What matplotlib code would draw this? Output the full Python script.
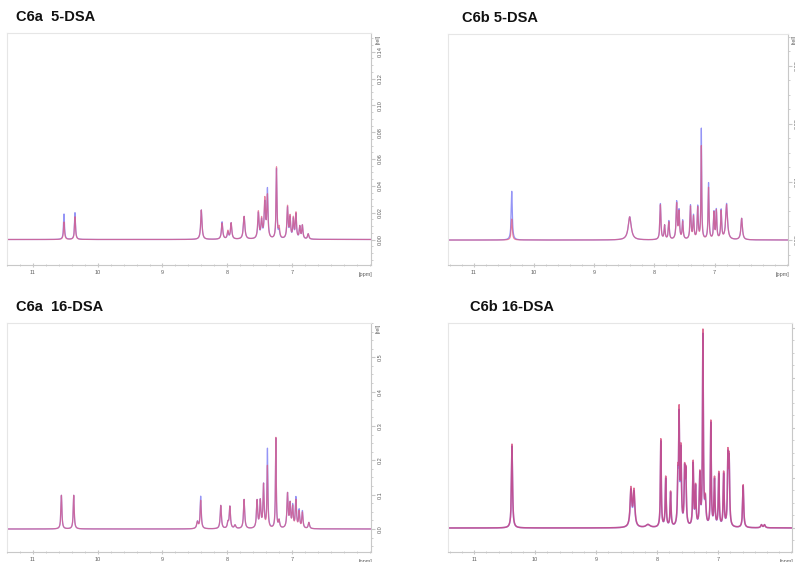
import numpy as np
import matplotlib
matplotlib.use("Agg")
import matplotlib.pyplot as plt
from matplotlib.ticker import MultipleLocator

plt.rcParams["font.family"] = ["Liberation Sans", "DejaVu Sans"]

# peak lists: position [ppm], height [rel] (blue / red trace), half width [ppm]
c6a_5_ppm = [10.52, 10.35, 8.40, 8.08, 7.99, 7.94, 7.74, 7.52, 7.47, 7.42, 7.38, 7.24, 7.20,
             7.07, 7.03, 6.98, 6.94, 6.88, 6.84, 6.75]
c6a_5_blue = [0.019, 0.020, 0.022, 0.013, 0.005, 0.012, 0.017, 0.019, 0.013, 0.026, 0.036, 0.052, 0.006,
              0.023, 0.015, 0.014, 0.018, 0.009, 0.010, 0.004]
c6a_5_red = [0.013, 0.017, 0.022, 0.012, 0.006, 0.012, 0.017, 0.020, 0.014, 0.029, 0.031, 0.053, 0.008,
             0.024, 0.016, 0.015, 0.019, 0.009, 0.010, 0.004]
c6a_5_width = [0.009, 0.009, 0.012, 0.012, 0.012, 0.012, 0.014, 0.012, 0.012, 0.012, 0.010, 0.008, 0.012,
               0.011, 0.010, 0.010, 0.010, 0.010, 0.010, 0.012]

c6b_5_ppm = [10.37, 8.41, 7.90, 7.83, 7.76, 7.63, 7.59, 7.53, 7.40, 7.35, 7.28, 7.22, 7.10,
             7.01, 6.97, 6.89, 6.80, 6.55]
c6b_5_blue = [0.0084, 0.0040, 0.0062, 0.0024, 0.0032, 0.0064, 0.0048, 0.0032, 0.0058, 0.0040, 0.0056, 0.0190, 0.0097,
              0.0046, 0.0050, 0.0050, 0.0062, 0.0037]
c6b_5_red = [0.0036, 0.0040, 0.0060, 0.0024, 0.0030, 0.0061, 0.0046, 0.0030, 0.0056, 0.0038, 0.0054, 0.0160, 0.0089,
             0.0045, 0.0048, 0.0048, 0.0060, 0.0037]
c6b_5_width = [0.011, 0.030, 0.010, 0.010, 0.010, 0.011, 0.010, 0.010, 0.010, 0.010, 0.010, 0.007, 0.009,
               0.009, 0.009, 0.010, 0.018, 0.015]

c6a_16_ppm = [10.56, 10.37, 8.46, 8.41, 8.10, 7.99, 7.96, 7.88, 7.74, 7.54, 7.49, 7.44, 7.38, 7.25, 7.20,
              7.07, 7.03, 6.99, 6.94, 6.89, 6.84, 6.74]
c6a_16_blue = [0.098, 0.098, 0.020, 0.094, 0.068, 0.016, 0.064, 0.010, 0.085, 0.080, 0.078, 0.125, 0.230, 0.262, 0.022,
               0.100, 0.068, 0.064, 0.088, 0.052, 0.050, 0.018]
c6a_16_red = [0.098, 0.098, 0.020, 0.082, 0.068, 0.016, 0.064, 0.010, 0.085, 0.080, 0.078, 0.125, 0.180, 0.264, 0.022,
              0.100, 0.068, 0.060, 0.080, 0.048, 0.046, 0.018]
c6a_16_width = [0.009, 0.009, 0.014, 0.010, 0.011, 0.011, 0.011, 0.014, 0.011, 0.011, 0.011, 0.010, 0.008, 0.007, 0.011,
                0.011, 0.010, 0.010, 0.010, 0.010, 0.010, 0.012]

c6b_16_ppm = [10.38, 8.43, 8.38, 8.15, 7.94, 7.86, 7.78, 7.66, 7.64, 7.61, 7.55, 7.53, 7.41, 7.37, 7.30,
              7.25, 7.21, 7.12, 7.06, 6.99, 6.91, 6.84, 6.82, 6.59, 6.29, 6.24]
c6b_16_blue = [0.82, 0.36, 0.34, 0.03, 0.86, 0.48, 0.34, 0.44, 1.04, 0.72, 0.52, 0.50, 0.62, 0.38, 0.50,
               1.90, 0.24, 1.03, 0.46, 0.52, 0.52, 0.66, 0.62, 0.42, 0.03, 0.03]
c6b_16_red = [0.84, 0.38, 0.36, 0.03, 0.88, 0.50, 0.35, 0.46, 1.08, 0.74, 0.53, 0.51, 0.64, 0.39, 0.51,
              1.94, 0.25, 1.05, 0.48, 0.54, 0.54, 0.68, 0.64, 0.43, 0.03, 0.03]
c6b_16_width = [0.010, 0.016, 0.016, 0.04, 0.008, 0.009, 0.009, 0.009, 0.008, 0.009, 0.009, 0.009, 0.009, 0.009, 0.009,
                0.008, 0.012, 0.008, 0.009, 0.009, 0.009, 0.009, 0.009, 0.010, 0.014, 0.014]

panels = [
    dict(title="C6a  5-DSA", ppm=c6a_5_ppm, blue=c6a_5_blue, red=c6a_5_red, width=c6a_5_width,
         rect=[0.0088, 0.5285, 0.458, 0.4128], xlim=(11.40, 5.78), ylim=(-0.019, 0.154),
         yticks=[0.00, 0.02, 0.04, 0.06, 0.08, 0.10, 0.12, 0.14], yfmt="{:.2f}", yminor=0.005, rel=0.149,
         lw=0.9, red_col="#e0557c", tx=0.025, ypad=2),
    dict(title="C6b 5-DSA", ppm=c6b_5_ppm, blue=c6b_5_blue, red=c6b_5_red, width=c6b_5_width,
         rect=[0.5635, 0.5285, 0.4277, 0.411], xlim=(11.43, 5.78), ylim=(-0.0043, 0.0355),
         yticks=[0.00, 0.01, 0.02, 0.03], yfmt="{:.2f}", yminor=0.0025, rel=0.0345,
         lw=0.9, red_col="#e0557c", tx=0.04, ypad=2),
    dict(title="C6a  16-DSA", ppm=c6a_16_ppm, blue=c6a_16_blue, red=c6a_16_red, width=c6a_16_width,
         rect=[0.0088, 0.0178, 0.458, 0.4075], xlim=(11.40, 5.78), ylim=(-0.067, 0.60),
         yticks=[0.0, 0.1, 0.2, 0.3, 0.4, 0.5], yfmt="{:.1f}", yminor=0.025, rel=0.583,
         lw=0.9, red_col="#e0557c", tx=0.025, ypad=2),
    dict(title="C6b 16-DSA", ppm=c6b_16_ppm, blue=c6b_16_blue, red=c6b_16_red, width=c6b_16_width,
         rect=[0.5635, 0.0178, 0.4327, 0.4075], xlim=(11.43, 5.79), ylim=(-0.24, 2.05),
         yticks=[0.0, 0.5, 1.0, 1.5, 2.0], yfmt="{:.1f}", yminor=0.125, rel=None,
         lw=1.1, red_col="#d2356a", tx=0.064, ypad=10),
]

grid = np.linspace(5.7, 11.5, 6000)


def spectrum(ppm, height, width):
    y = np.zeros_like(grid)
    for p, h, w in zip(ppm, height, width):
        y += h * w**2 / ((grid - p) ** 2 + w**2)
    return y


fig = plt.figure(figsize=(7.95, 5.62), dpi=100)
spine_col = "#c8c8c8"
tick_col = "#606060"

for p in panels:
    ax = fig.add_axes(p["rect"])
    ax.plot(grid, spectrum(p["ppm"], p["blue"], p["width"]), color="#8a8af5", lw=p["lw"], alpha=0.9)
    ax.plot(grid, spectrum(p["ppm"], p["red"], p["width"]), color=p["red_col"], lw=p["lw"], alpha=0.7)
    ax.set_xlim(*p["xlim"])
    ax.set_ylim(*p["ylim"])

    for s in ax.spines.values():
        s.set_color(spine_col)
        s.set_linewidth(0.8)
    ax.spines["left"].set_color("#e6e6e6")
    ax.spines["top"].set_color("#e6e6e6")

    ax.set_xticks([11, 10, 9, 8, 7])
    ax.set_xticklabels(["11", "10", "9", "8", "7"])
    ax.xaxis.set_minor_locator(MultipleLocator(0.2))
    ax.tick_params(axis="x", which="both", direction="inout", colors=spine_col, labelcolor=tick_col,
                   labelsize=4, pad=2)
    ax.tick_params(axis="x", which="major", length=3)
    ax.tick_params(axis="x", which="minor", length=2)

    ax.yaxis.tick_right()
    ax.set_yticks(p["yticks"])
    ax.set_yticklabels([p["yfmt"].format(v) for v in p["yticks"]], rotation=90, va="center")
    ax.yaxis.set_minor_locator(MultipleLocator(p["yminor"]))
    ax.tick_params(axis="y", which="both", direction="out", colors=spine_col, labelcolor=tick_col,
                   labelsize=4, pad=p["ypad"])
    ax.tick_params(axis="y", which="major", length=3)
    ax.tick_params(axis="y", which="minor", length=1.5)
    if p["rel"] is not None:
        ax.text(1.012, p["rel"], "[rel]", transform=ax.get_yaxis_transform(), rotation=90,
                fontsize=4, color=tick_col, ha="left", va="center")
    ax.text(0.985, -0.04, "[ppm]", transform=ax.transAxes, fontsize=4, color=tick_col,
            ha="center", va="center")

    ax.text(p["tx"], 1.04, p["title"], transform=ax.transAxes,
            fontsize=10.5, fontweight="bold", ha="left", va="bottom", color="#111111")

fig.savefig("out.png", dpi=100)
